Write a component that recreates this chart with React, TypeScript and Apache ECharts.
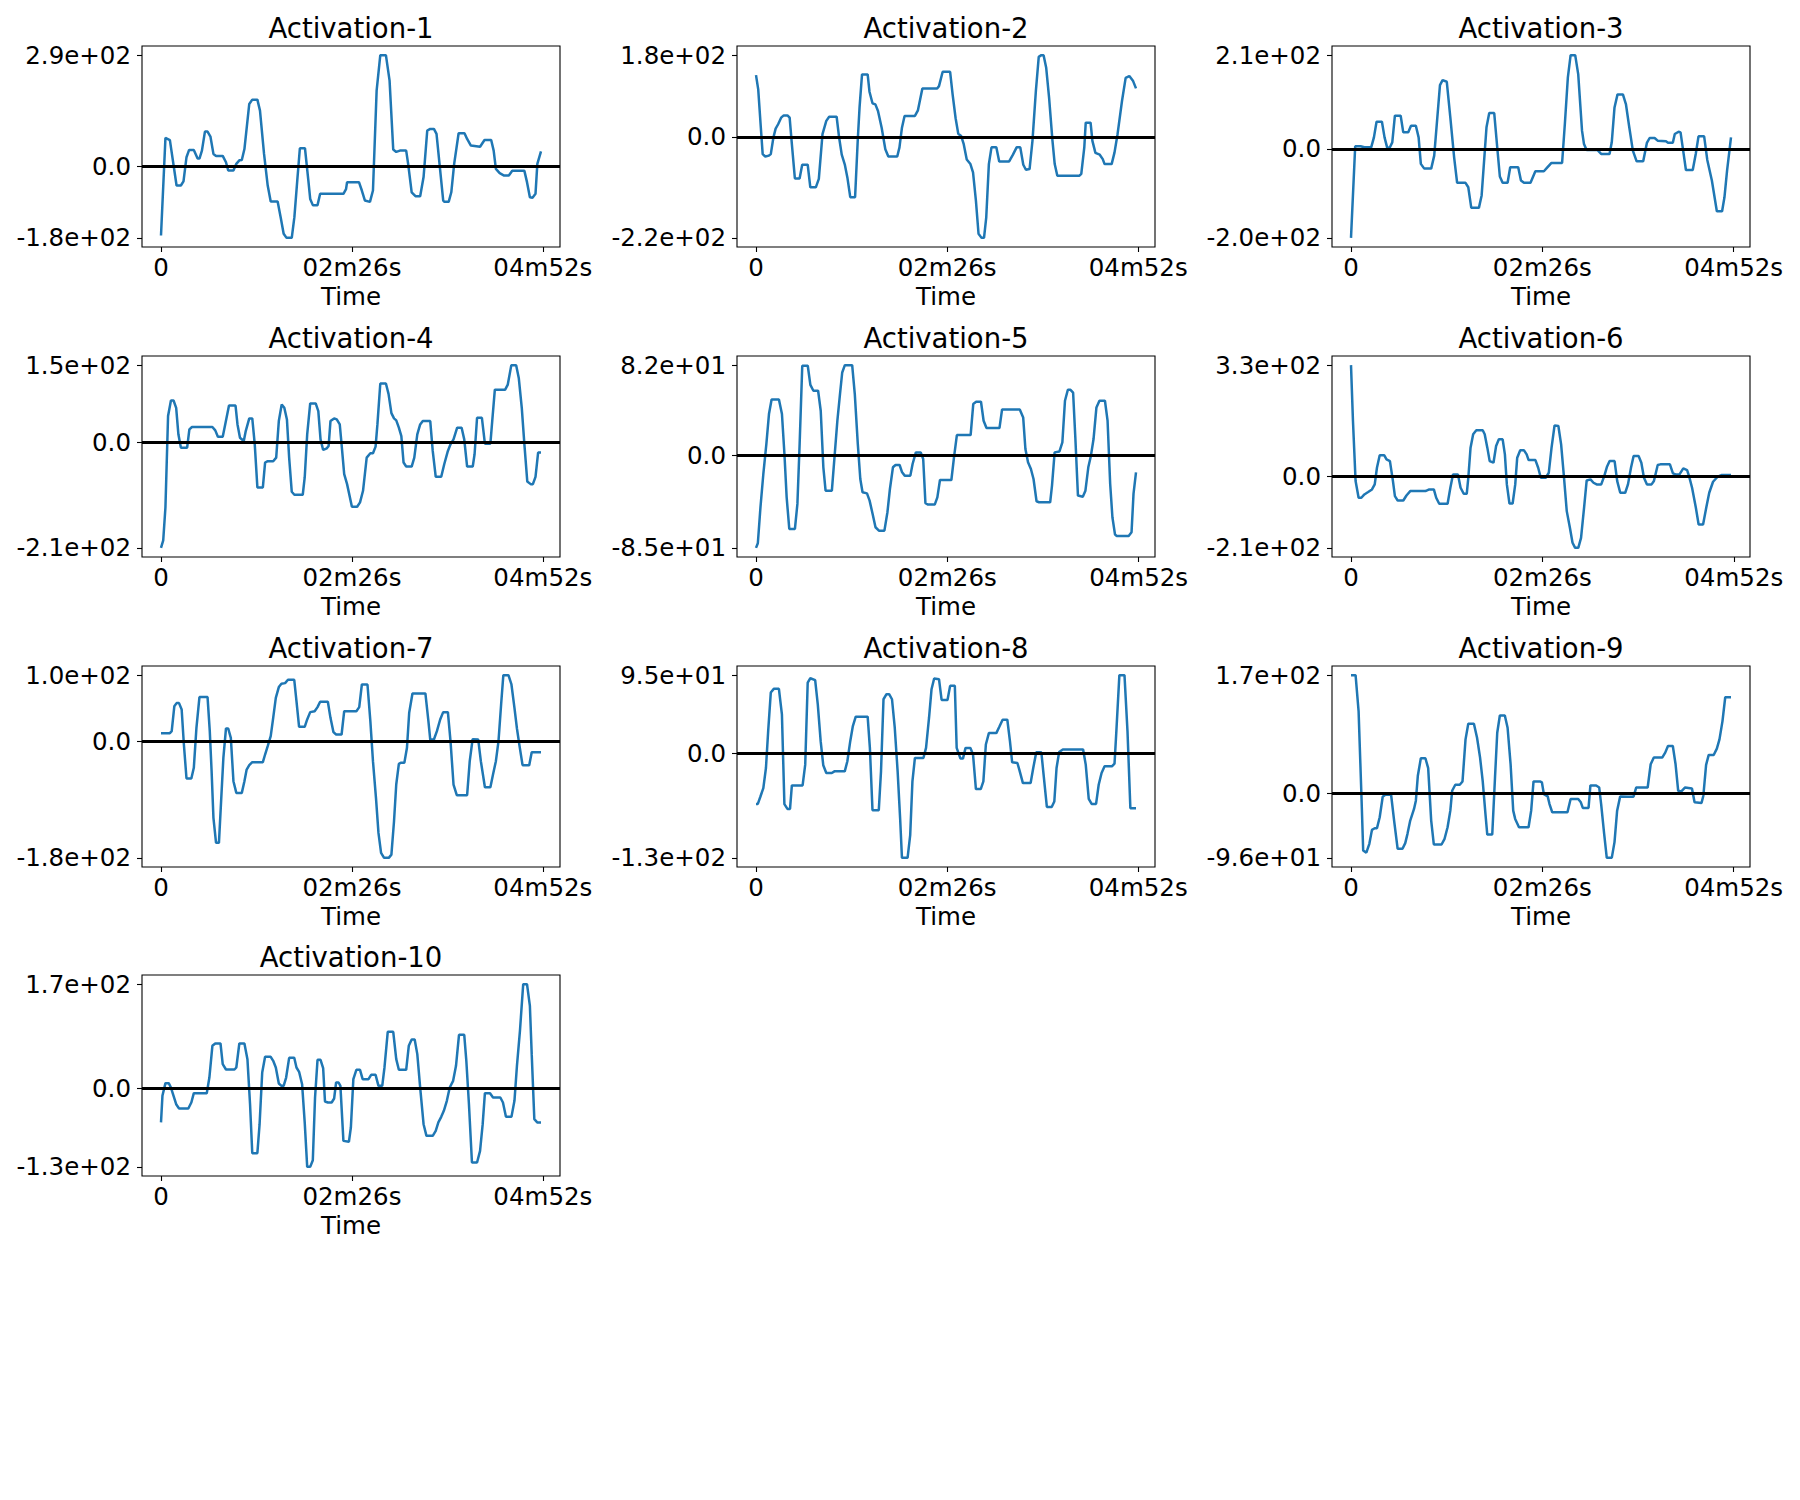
import React, { useEffect, useRef } from 'react';
import * as echarts from 'echarts';

const FONT = 'DejaVu Sans';
const LINE_COLOR = '#1f77b4';

const titles = ['Activation-1', 'Activation-2', 'Activation-3', 'Activation-4', 'Activation-5', 'Activation-6', 'Activation-7', 'Activation-8', 'Activation-9', 'Activation-10'];
const xTickValues = [0, 146, 292];
const xAxisName = 'Time';

const act1 = [[0,-177],[3.4,73.5],[6.8,68],[11.9,-48.7],[15.2,-48.7],[17.2,-38],[19.5,24],[21.5,42.7],[25.1,42.7],[28,20.5],[29.4,20.5],[31.3,41],[33.6,89.7],[35.6,89.7],[37.8,77],[40.1,32.5],[42.1,27.4],[47.2,27.4],[49.7,11],[51.4,-10],[55.4,-10],[57.6,7],[59.9,16],[61.8,17],[63.8,45],[67.5,160.7],[69.8,171.8],[73.7,171.8],[75.7,143.6],[78.8,32.5],[81.6,-48.7],[83.9,-89.7],[89.2,-89.7],[91.5,-130],[93.8,-172.6],[96,-183],[100,-183],[102,-130],[104.2,-36],[106.2,47],[110.1,47],[112.7,-36],[114.1,-83],[116.1,-99],[119.7,-99],[121.7,-70],[139.5,-70],[141.5,-58],[142.3,-40],[151.4,-40],[153.6,-61.5],[155.9,-87],[159.8,-90.6],[162.1,-61.5],[164.9,195],[167.7,286],[172,286],[174.8,220.5],[177.6,43.6],[179.9,37.6],[182.7,41],[187.5,41],[189,7],[191.7,-66],[194.6,-76],[198.2,-76],[200.8,-27],[203.6,92.3],[205.9,96.6],[208.7,96.6],[210.7,83.8],[213,7],[215.8,-87],[216.6,-90.6],[220,-90.6],[222,-66],[224.2,7],[227.6,85.5],[232.1,85.5],[234.1,71],[237,54],[244,51],[247.4,68],[252.5,68],[254.4,41],[256.1,-6],[259,-17],[262.4,-23],[266,-23],[268.6,-11],[277.9,-11],[279.9,-40],[282.1,-78.6],[284.1,-80],[286.4,-70],[287.8,7],[290.6,39]];

const act2 = [[0,135],[1.7,104],[3.7,20],[5.1,-37.8],[7.1,-43],[9.9,-41],[11.3,-37.8],[13.3,-1.5],[15,18],[16.9,27.6],[19.2,42],[21.2,47],[24,47],[25.7,42],[27.4,-16],[29.7,-91],[33.3,-91],[35.3,-61],[39.5,-61],[41.5,-110.5],[45.7,-110.5],[48,-92],[50.8,5.8],[53.7,35],[55.9,44],[61.6,44],[63.5,-1.5],[65.5,-39],[67.8,-60],[69.8,-88.7],[72,-132],[75.7,-132],[77.7,-9],[79.1,64],[81,136.6],[85.3,136.6],[86.7,98.8],[89,73.4],[91.2,71],[93.2,56.7],[96,20],[98.8,-27],[101.1,-43],[107.9,-43],[109.6,-23],[111.5,20],[113.5,45.8],[121.4,45.8],[123.7,58],[127.1,106],[132.7,106],[138.4,106],[139.8,111],[142.6,142.4],[148.3,142.4],[150.2,93],[152.5,40.7],[154.5,7],[156.7,2],[158.7,-16],[161,-49.4],[163.8,-59.6],[165.8,-77.8],[168,-139.5],[170,-212],[172.3,-221],[174.2,-221],[175.9,-176],[177.9,-59.6],[179.9,-23],[183.6,-23],[185.8,-53.8],[193.4,-53.8],[196.3,-39],[199.1,-23],[201.9,-23],[204.2,-61],[206.2,-72],[209,-70.5],[211.2,-8.7],[213.8,100],[216,175],[218,178.8],[219.7,178.8],[221.7,151],[223.9,85.8],[226.5,-8.7],[228.2,-59.6],[230.2,-85],[247.1,-85],[248.5,-81],[250.8,-23],[251.9,31],[255.6,31],[257,-8.7],[259.3,-35],[262.6,-39],[264.9,-48.7],[266.3,-59.6],[271.7,-59.6],[273.9,-34],[276.2,5.8],[279.6,78.5],[282.4,129],[285.2,133],[288.1,122],[290.3,106]];

const act3 = [[0,-197],[3.2,6],[7.3,6],[10.2,3.7],[15.4,3.7],[17.5,25.8],[19.5,60.5],[23.6,60.5],[25.6,25.8],[27.7,2],[29.7,3.7],[31.5,14.7],[33.5,73.7],[37.9,73.7],[39.9,36.9],[43.7,36.9],[45.8,51.6],[49.5,51.6],[51.6,25.8],[53.3,-33],[55.9,-43.5],[61.2,-43.5],[63.5,-14.7],[67.9,141.6],[69.9,152.7],[73.1,149],[75.8,70],[78.7,-18.4],[81,-75],[87.4,-75],[89.5,-84.8],[91.8,-130.5],[97.6,-130.5],[99.7,-103],[103.4,48],[105.5,79.6],[109.3,79.6],[111.6,3.7],[113.6,-61],[115.7,-75],[119.5,-75],[121.5,-40.6],[127.6,-40.6],[129.7,-70],[132,-75],[137,-75],[140.7,-49.4],[147.2,-49.4],[149.5,-42],[153,-31],[161.1,-31],[163.2,55.3],[165.5,158.6],[167.6,208],[171.1,208],[173.4,166],[176.3,40.6],[177.8,11],[179.8,-2.2],[188,-2.2],[190.9,-11],[197.3,-11],[199,14.7],[201.1,92],[203.4,121],[207.5,121],[209.8,99.6],[212.2,51.6],[215.1,-3.7],[218,-27.3],[223,-27.3],[225.8,13.3],[227.9,24.3],[231.7,24.3],[234,18.4],[240.4,17],[241.9,14],[245.6,14],[247.1,33.2],[250,38.3],[251.5,36.9],[253.5,-3.7],[255.6,-46.5],[260.8,-46.5],[263.1,-11],[265.2,28],[269.5,28],[271.9,-24.3],[275.4,-70],[279.2,-138],[283.2,-138],[285,-107],[287,-48],[290,25.8]];

const act4 = [[0,-206.5],[1.7,-192],[3.4,-127],[5.4,51.3],[7.6,81.8],[9.6,81.8],[11.6,67.5],[13.3,15.6],[15.2,-10.4],[20,-10.4],[21.7,25.3],[23.7,29.9],[39.3,29.9],[41.5,23.4],[43.5,11],[47.2,11],[49.1,35],[52,72],[57,72],[58.5,35],[60.4,9],[63.3,2.6],[64.7,20.8],[67.5,46.8],[69.8,46.8],[71.7,-3.9],[73.7,-88.3],[77.9,-88.3],[79.6,-39.6],[81.6,-37],[85.8,-37],[88.1,-30],[90.1,41.6],[92.3,74],[94.3,67.5],[96.3,44.8],[98,-30],[100,-96.8],[102,-102.6],[108.4,-102.6],[109.9,-68.8],[111.8,15.6],[114.1,76],[118.3,76],[120.3,61],[122,5.8],[124,-15],[126.8,-11.7],[128.2,-7],[129.6,41.6],[132.4,46.8],[134.4,44.8],[136.7,35],[138.1,-3.9],[140.1,-62.3],[142.3,-81.8],[146,-126],[150,-126],[152.2,-117.5],[154.5,-94.8],[157.3,-30],[160.1,-21.4],[162.1,-21.4],[164.1,-8.4],[165.5,35],[167.7,115],[172,115],[174,94.8],[176.2,57],[178.2,46.8],[179.9,42.9],[181.9,28.6],[183.8,12.3],[185.5,-39.6],[187.5,-47.4],[191.7,-47.4],[193.7,-30],[196,15.6],[198.2,35],[200.2,41.6],[205.9,41.6],[207.8,-16.9],[210.1,-67.5],[214.3,-67.5],[216.6,-42.9],[219.4,-16.9],[221.4,-3.9],[223.7,5.8],[226.5,28.6],[229.9,28.6],[231.9,5.8],[234.1,-47.4],[238.4,-47.4],[239.8,-23.4],[241.7,48],[245.4,48],[247.7,-2.6],[251.9,-2.6],[253.3,41.6],[255.3,103],[263.2,103],[265.2,113],[267.9,151],[271.6,151],[273.6,126],[275.9,67.5],[277.9,-3.9],[280.1,-76.6],[282.7,-81.8],[284.4,-81.8],[286.4,-67.5],[288.4,-20],[290.6,-20]];

const act5 = [[0,-84.7],[1.4,-80.5],[3.4,-47.7],[5.6,-17.3],[7.9,10],[9.9,37.4],[11.9,50.7],[17.5,50.7],[19.8,37.4],[21.7,0.9],[23.4,-38.6],[25.4,-67.4],[29.7,-67.4],[31.6,-44.6],[33.3,10],[35.3,81.4],[39.5,81.4],[41.5,64],[43.8,58.6],[47.4,58.6],[49.4,40.4],[51.4,-11.2],[53.1,-32.5],[57.9,-32.5],[59.9,-2.1],[62.1,31.3],[64.1,55.6],[65.8,75.3],[67.8,82],[73.4,82],[75.4,55.6],[77.7,10],[79.6,-21.9],[81.3,-34],[84.7,-35],[86.7,-41.6],[89,-53.8],[91.2,-65.9],[93.8,-69],[98,-69],[100.3,-52.2],[102.2,-31],[104.5,-11.2],[106.5,-9.1],[109.6,-9.1],[111.5,-15.8],[113.5,-18.8],[117.8,-18.8],[119.5,-8.2],[122,2.4],[125.7,2.4],[127.6,-3.6],[129.3,-44],[131.3,-45.2],[136.4,-45.2],[138.4,-38.6],[140.4,-22.8],[149.1,-22.8],[151.1,-2.1],[153.3,18.2],[163.8,18.2],[165.8,46.5],[168,48.6],[171.7,48.6],[173.7,31.3],[175.9,24.6],[185.8,24.6],[187.8,41.6],[201.3,41.6],[203.9,34.3],[205.6,5.5],[207.6,-6.7],[209.8,-12.8],[211.8,-21.9],[214.1,-42.2],[216,-43.1],[224.5,-43.1],[225.9,-27.9],[227.9,2.4],[231.6,3.3],[233.8,11.5],[235.8,49.5],[238,59.5],[240,59.5],[242,57],[243.7,16],[245.7,-37],[249.4,-38],[251.4,-32.5],[253.6,-11.2],[255.6,-0.6],[257.6,14.6],[259.8,43.4],[262.1,49.5],[266.3,49.5],[268.3,31.3],[270.3,-26.4],[272,-56.8],[274,-72.6],[275.3,-73.8],[284.4,-73.8],[286.6,-70.5],[288.1,-35.5],[290,-15.8]];

const act6 = [[0,326],[1.5,162],[3.5,-14.7],[5.8,-63.8],[7.9,-63.8],[10.2,-54],[13.1,-47],[16,-39.3],[18.1,-24.5],[19.8,24.5],[21.9,61],[25.4,61],[27.1,49],[29.7,44],[32,-14.7],[33.5,-59],[35.6,-71.7],[39.9,-71.7],[42.3,-57],[45.2,-44.2],[56.8,-44.2],[59.7,-39.3],[63.2,-39.3],[65,-63.8],[67.3,-81.5],[73.7,-81.5],[75.8,-34.4],[77.8,4.9],[81.6,4.9],[83.6,-34.4],[86,-52],[88.3,-52],[89.5,-4.9],[91.2,83.5],[93.2,122.7],[95.6,134.5],[100.5,134.5],[102,122.7],[104,83.5],[105.8,44],[108.7,39.3],[110.7,88.4],[112.8,108],[115.7,108],[117.4,63.8],[118.9,-24.5],[120.9,-80.5],[123.3,-80.5],[125.3,-24.5],[126.8,54],[129.1,75.6],[132,75.6],[134,63.8],[135.5,47],[140.7,47],[142.8,24.5],[144.8,-4.9],[148.6,-4.9],[150.9,9.8],[153,83.5],[155.3,149],[158.2,147],[160.3,93.3],[162.3,4.9],[164.6,-103],[167,-152],[169,-196],[171,-211],[173.4,-211],[175.5,-181.6],[177.8,-93.3],[179.8,-12.8],[182.7,-9.8],[185,-19.6],[187.4,-24.5],[190.9,-24.5],[193.2,0],[195.2,26.5],[197.3,44],[201.1,44],[203.1,-14.7],[205.4,-49],[209.2,-49],[211.3,-24.5],[213.6,24.5],[215.6,59],[219.4,59],[221.5,39.3],[223.5,-4.9],[225.8,-24.5],[229.3,-24.5],[231.1,-14.7],[234,32.4],[236,34.4],[243.3,34.4],[245.6,7.9],[247.7,4.9],[250.6,4.9],[253.5,22.6],[256.4,17.7],[257.9,0],[260.2,-34.4],[263.1,-93.3],[265.2,-142.4],[268.6,-142.4],[271,-93.3],[273.3,-49],[276.2,-16.7],[279.7,-2],[282.6,3],[289.9,3]];

const act7 = [[0,12.8],[6.8,12.8],[8.2,15.8],[10.2,54],[11.9,58.7],[13.8,58.7],[15.8,49],[17.5,-4.6],[19.5,-56.6],[23.2,-56.6],[25.1,-40.3],[27.1,21],[29.4,67.9],[35.6,67.9],[37.3,15.8],[38.7,-45.4],[40.1,-116.8],[42.1,-155],[44.3,-155],[45.7,-101.5],[47.7,-25],[49.7,19.9],[51.4,19.9],[53.4,5.6],[55.4,-60.7],[57.6,-78.6],[61.8,-78.6],[63.8,-60.7],[65.5,-42.9],[67.5,-36.2],[69.8,-31.6],[77.9,-31.6],[79.6,-19.9],[81.6,-7.1],[83.9,8.2],[85.8,36.2],[87.8,66.8],[90.1,83.2],[92.1,88.3],[94.9,89.3],[97.1,94.4],[101.9,94.4],[103.6,61.7],[105.6,22.4],[109.9,22.4],[111.8,33.7],[114.1,44.9],[117.5,46.4],[119.7,52.6],[121.7,60.7],[127.6,60.7],[129.6,36.2],[131.9,14.3],[133.9,10.7],[138.1,10.7],[140.1,46.4],[149.4,46.4],[151.6,52.6],[153.6,87.2],[157.9,87.2],[160.1,31.1],[162.1,-30.1],[164.4,-86.2],[166.3,-139.8],[168.3,-170.4],[170.6,-178],[174.2,-178],[176.2,-173],[178.2,-122],[179.9,-65.8],[181.9,-34.2],[183.3,-32.7],[186.1,-32.7],[188.1,-9.7],[189.8,43.9],[192.3,73.5],[202.2,73.5],[204.5,31.1],[205.9,3],[208.7,3],[211,15.8],[213.5,33.7],[215.8,44.9],[219.4,44.9],[221.4,0.5],[223.7,-65.8],[226.2,-82.1],[234.1,-82.1],[236.1,-30.1],[238.3,3.6],[242.6,3],[244.6,-30.1],[247.7,-69.9],[251.9,-69.9],[253.9,-50.5],[256.1,-30.1],[258.1,0.5],[260.1,56.6],[261.8,101.5],[265.7,101.5],[268,87.2],[270.3,51.5],[272.2,19.9],[274.2,-7.1],[276.5,-36.2],[281.6,-36.2],[283.5,-16.3],[290.6,-16.3]];

const act8 = [[0,-61],[1.4,-61],[3.4,-52],[5.6,-41.8],[7.6,-17.5],[9.3,27.2],[11.3,73.9],[13.6,78.4],[17.5,78.4],[19.8,47.5],[21.7,-61.3],[24,-67],[26,-67],[27.4,-38.6],[35.6,-38.6],[37.6,-13.4],[39.5,86],[41.5,91.2],[45.2,88.9],[47.2,59.7],[49.4,15],[51.4,-14.2],[53.7,-23.5],[57.9,-23.5],[59.9,-21.5],[67.8,-21.5],[69.8,-9.3],[72,15],[74,33.3],[76.2,44.7],[85.3,44.7],[87,6.9],[89,-68.6],[93.8,-68.6],[95.5,-21.5],[97.4,65.8],[99.7,71.9],[101.7,71.9],[103.9,65.8],[106,31.3],[108.2,-21.5],[110.1,-78.4],[111.5,-126.3],[115.8,-126.3],[117.8,-98.7],[119.5,-33.7],[121.4,-5.3],[127.9,-5.3],[129.9,6.9],[132.2,43.4],[134.1,78],[136.1,91],[139.8,90.1],[141.8,65],[146.3,65],[148.3,82],[151.9,82],[153.3,6.9],[156.2,-6.1],[158.1,-6.1],[160.1,6.9],[163.8,6.9],[165.8,-1.2],[168,-43],[171.7,-43],[173.7,-33.7],[175.6,11],[177.9,24.8],[183.6,24.8],[185.8,32.1],[188.4,41],[192,41],[194,15],[195.7,-10.6],[199.7,-11.4],[201.3,-20.3],[203.9,-35.7],[209.8,-35.7],[211.8,-17.5],[214.1,1.6],[218,1.6],[219.7,-25.6],[222.2,-64.6],[225.9,-64.6],[227.9,-58],[229.6,-17.5],[231.6,2],[234.4,4.9],[249.9,4.9],[251.9,-13.4],[254.2,-54.8],[256.4,-61],[259.8,-61],[261.8,-37.8],[264,-23.5],[266.3,-15.4],[271.9,-15.4],[273.9,-12.2],[275.3,27.2],[277.6,95],[281.5,95],[283.8,27.2],[286,-66.2],[290.3,-66.2]];

const act9 = [[0,174.4],[3.5,174.4],[5.8,121],[7.9,0],[9.3,-84.8],[11.7,-88.2],[14,-75],[16,-54.4],[18.1,-52],[19.8,-52],[21.9,-35.8],[24.2,-5.4],[26.2,-2.5],[30.6,-2.5],[32.9,-40.7],[35.6,-82.4],[39.3,-82.4],[41.4,-74],[43.1,-60.3],[45.2,-40.7],[48.1,-23.5],[49.5,-11.3],[51,25.5],[53.3,51.5],[56.8,51.5],[58.9,36.8],[61.2,-40.7],[63.2,-76],[69.1,-76],[71.4,-67.6],[73.7,-50.5],[75.8,-26],[77.2,3.4],[79.6,12.3],[83,12.3],[85.1,17.2],[87.4,79.4],[89.5,102.5],[93.8,102.5],[96.2,81.9],[98.5,52.5],[100.5,18.1],[102.6,-30.9],[104,-61.3],[107.8,-61.3],[109.9,23],[111.6,89.2],[113.6,114.7],[117.4,114.7],[119.5,96.6],[121.8,42.6],[123.8,-26],[125.3,-38.2],[128.2,-50.5],[135.5,-50.5],[137.5,-26],[139.3,17.2],[144.2,17.2],[145.7,15.7],[147.2,-1.5],[150.1,-4.9],[151.5,-16.2],[153.6,-28.4],[165.2,-28.4],[167.6,-8.8],[173.4,-8.8],[175.4,-13.7],[176.9,-22],[181.3,-22],[182.7,11.3],[187.1,11.3],[189.4,8.3],[190.9,-16.2],[193.2,-60.3],[195.2,-95.8],[199,-95.8],[201.1,-72.5],[203.1,-26],[205.4,-4.9],[211.3,-5.4],[215.6,-5.4],[217.7,8.3],[226.4,8.3],[228.7,42.6],[231.1,52.5],[237.5,52.5],[239.8,59.8],[241.9,69.6],[245.6,69.6],[247.7,42.6],[249.7,3.4],[252.1,2.5],[255,8.3],[260.2,6.9],[262.2,-13.7],[267.5,-14.7],[268.9,-3.9],[271,41.7],[273,56.4],[276.8,56.4],[279.2,65.7],[281.2,79.4],[283.5,106.4],[285.6,141.7],[290,141.7]];

const act10 = [[0,-56],[1.1,-12.5],[3.4,8.2],[5.9,8.2],[7.6,1],[9.6,-12.5],[11.6,-26.2],[13.8,-33.2],[20.9,-33.2],[23.2,-23.4],[25.1,-8.2],[35,-8.2],[37,17.4],[39.3,69.2],[41.5,73],[45.5,73],[47.2,39.2],[49.7,30.5],[56.2,30.5],[57.6,33.8],[59.9,73],[63.8,73],[66.1,47.4],[68.1,-26.2],[69.8,-106.3],[73.7,-106.3],[75.4,-58.9],[77.4,25.6],[79.6,51.2],[83.9,51.2],[85.8,44.7],[87.8,33.8],[90.1,7.6],[92.1,3.8],[93.8,3.8],[95.7,17.4],[98,49.6],[101.9,49.6],[103.6,33.8],[105.6,26.7],[107.9,6.5],[109.9,-56],[111.8,-128.6],[114.1,-128.6],[116.1,-117.7],[117.8,-15.3],[119.7,46.3],[122,46.3],[124,32.7],[125.4,-21.8],[127.6,-23.4],[130.5,-23.4],[132.4,-16.9],[133.9,9.3],[135.8,9.3],[137.2,3.8],[139.5,-86.1],[143.7,-87.7],[145.2,-64.3],[147.1,14.7],[149.4,30],[152.2,30],[154.2,14.7],[158.7,14.7],[160.7,21.8],[164.1,21.8],[166.3,3.8],[169.2,3.8],[170.9,33.8],[173.4,92.1],[177.6,92.1],[179.9,47.4],[181.9,30],[187.5,30],[189.5,69.2],[191.7,79.6],[194,79.6],[196,55.6],[198.2,1],[200.8,-58.9],[203,-77.9],[207.8,-77.9],[210.1,-69.8],[212.1,-56],[214.3,-46.9],[216.3,-37],[218.6,-20.7],[220.8,1],[223.4,12],[225.6,36.5],[227.9,87.2],[231.9,87.2],[233.5,44.7],[235.5,-26.2],[237.8,-121.5],[241.7,-121.5],[244,-102.5],[246,-58.9],[247.7,-8.2],[251.6,-8.2],[253.9,-15.3],[259.5,-15.3],[261.5,-23.4],[263.8,-46.9],[268,-46.9],[270.3,-20.7],[272.2,36.5],[274.5,93.7],[277,170],[279.9,170],[282.1,134.6],[283.5,55.6],[285.5,-50.7],[287.7,-56],[290.6,-56]];

const seriesData = [act1, act2, act3, act4, act5, act6, act7, act8, act9, act10];

function fmtTime(v: number): string {
  if (Math.abs(v) < 1e-9) return '0';
  const m = Math.floor(v / 60);
  const s = Math.round(v - m * 60);
  return String(m).padStart(2, '0') + 'm' + String(s).padStart(2, '0') + 's';
}

function fmtSci(v: number): string {
  if (Math.abs(v) < 1e-9) return '0.0';
  return v.toExponential(1).replace(/e([+-])(\d+)$/, (_m: string, sign: string, d: string) => 'e' + sign + d.padStart(2, '0'));
}

export default function App() {
  const ref = useRef<HTMLDivElement>(null);
  useEffect(() => {
    if (!ref.current) return;
    const chart = echarts.init(ref.current, null, { renderer: 'svg' });
    const colLeft = [142, 737, 1332];
    const rowTop = [46, 356, 666, 975];
    const W = 418;
    const H = 201;
    const grids: any[] = [];
    const xAxes: any[] = [];
    const yAxes: any[] = [];
    const series: any[] = [];
    const titleArr: any[] = [];
    seriesData.forEach((data, i) => {
      const r = Math.floor(i / 3);
      const c = i % 3;
      const left = colLeft[c];
      const top = rowTop[r];
      const ts = data.map((d) => d[0]);
      const vs = data.map((d) => d[1]);
      const tMin = Math.min(...ts);
      const tMax = Math.max(...ts);
      const vMin = Math.min(...vs);
      const vMax = Math.max(...vs);
      const tPad = (tMax - tMin) * 0.05;
      const vPad = (vMax - vMin) * 0.05;
      const yTicks = [vMin, 0, vMax];
      grids.push({
        left, top, width: W, height: H,
        show: true, backgroundColor: '#ffffff', borderColor: '#000000', borderWidth: 1.1,
        containLabel: false, outerBoundsMode: 'none',
      });
      xAxes.push({
        type: 'value', gridIndex: i, min: tMin - tPad, max: tMax + tPad,
        name: xAxisName, nameLocation: 'middle', nameGap: 37,
        nameTextStyle: { fontSize: 24.5, color: '#000', fontFamily: FONT },
        axisLine: { show: false, onZero: false },
        axisTick: { show: true, inside: false, length: 5, lineStyle: { color: '#000', width: 1.1 }, customValues: xTickValues },
        axisLabel: { show: true, customValues: xTickValues, formatter: (v: number) => fmtTime(v), fontSize: 24.5, color: '#000', fontFamily: FONT, margin: 8, hideOverlap: false },
        splitLine: { show: false },
      });
      yAxes.push({
        type: 'value', gridIndex: i, min: vMin - vPad, max: vMax + vPad,
        axisLine: { show: false, onZero: false },
        axisTick: { show: true, inside: false, length: 5, lineStyle: { color: '#000', width: 1.1 }, customValues: yTicks },
        axisLabel: { show: true, customValues: yTicks, formatter: (v: number) => fmtSci(v), fontSize: 24.5, color: '#000', fontFamily: FONT, margin: 11, hideOverlap: false },
        splitLine: { show: false },
      });
      series.push({
        type: 'line', xAxisIndex: i, yAxisIndex: i, data,
        showSymbol: false, symbol: 'none', silent: true,
        lineStyle: { color: LINE_COLOR, width: 2.5 },
        itemStyle: { color: LINE_COLOR },
        markLine: {
          silent: true, symbol: ['none', 'none'], label: { show: false },
          lineStyle: { color: '#000000', width: 3, type: 'solid' },
          data: [{ yAxis: 0 }],
        },
      });
      titleArr.push({
        text: titles[i], left: left + W / 2, top: top - 32.5, textAlign: 'center', padding: 0,
        textStyle: { fontSize: 27.5, fontWeight: 'normal', color: '#000', fontFamily: FONT },
      });
    });
    chart.setOption({
      animation: false,
      backgroundColor: '#ffffff',
      textStyle: { fontFamily: FONT },
      title: titleArr,
      grid: grids,
      xAxis: xAxes,
      yAxis: yAxes,
      series,
    });
    return () => chart.dispose();
  }, []);
  return <div ref={ref} style={{ position: 'absolute', left: 0, top: 0, width: 1800, height: 1500, background: '#fff' }} />;
}
